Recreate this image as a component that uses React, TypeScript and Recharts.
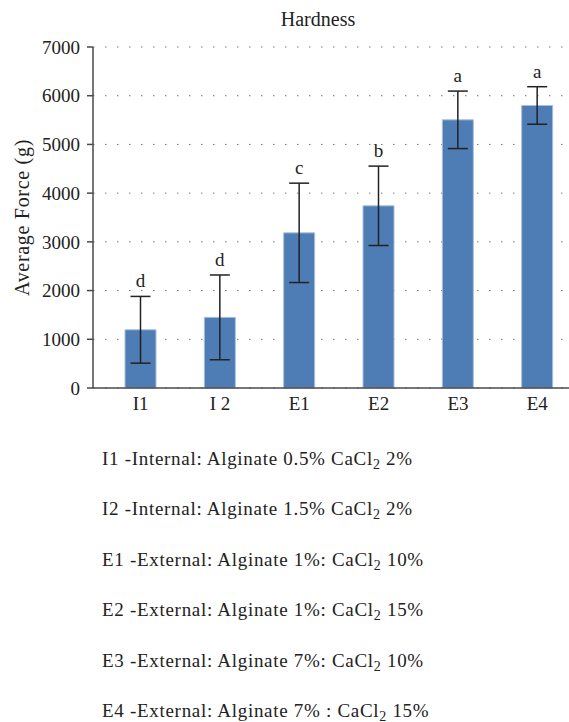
import { BarChart, Bar, XAxis, YAxis, CartesianGrid, ErrorBar, LabelList } from 'recharts'

const categories = ['I1', 'I 2', 'E1', 'E2', 'E3', 'E4']
const hardness = [1195, 1450, 3185, 3740, 5505, 5800]
const deviation = [685, 870, 1020, 815, 590, 385]
const letters = ['d', 'd', 'c', 'b', 'a', 'a']
const yTicks = [0, 1000, 2000, 3000, 4000, 5000, 6000, 7000]

// legend text below the chart: [before subscript, after subscript]
const legendLines: [string, string][] = [
  ['I1 -Internal: Alginate 0.5% CaCl', ' 2%'],
  ['I2 -Internal: Alginate 1.5% CaCl', ' 2%'],
  ['E1 -External: Alginate 1%: CaCl', ' 10%'],
  ['E2 -External: Alginate 1%: CaCl', ' 15%'],
  ['E3 -External: Alginate 7%: CaCl', ' 10%'],
  ['E4 -External: Alginate 7% : CaCl', ' 15%'],
]

const font = '"Liberation Serif", "DejaVu Serif", serif'
const axisColor = '#4a4a4a'

const chartData = categories.map((name, i) => ({
  name,
  value: hardness[i],
  err: deviation[i],
  letter: letters[i],
}))

const LetterLabel = (props: any) => {
  const { x, y, width, height, index } = props
  const d = chartData[index]
  const perUnit = height / d.value
  const errTop = y - d.err * perUnit
  return (
    <text x={x + width / 2} y={errTop - 9} textAnchor="middle" fontSize={19} fontFamily={font} fill="#222">
      {d.letter}
    </text>
  )
}

const YLabel = (props: any) => {
  const { viewBox } = props
  const cy = viewBox.y + viewBox.height / 2
  return (
    <text x={29} y={cy} transform={`rotate(-90, 29, ${cy})`} textAnchor="middle" fontSize={20} letterSpacing={0.7} fontFamily={font} fill="#222">
      Average Force (g)
    </text>
  )
}

export default function App() {
  return (
    <div style={{ position: 'absolute', left: 0, top: 0, width: 569, height: 722, overflow: 'hidden', background: '#fff', fontFamily: font, color: '#222' }}>
      <div style={{ position: 'absolute', left: 218, top: 8, width: 200, textAlign: 'center', fontSize: 20 }}>Hardness</div>
      <BarChart
        width={585}
        height={430}
        data={chartData}
        margin={{ top: 47, right: 0, left: 0, bottom: 0 }}
        barSize={31}
      >
        <CartesianGrid horizontal vertical={false} stroke="#777" strokeDasharray="1.5 10.5" />
        <XAxis
          dataKey="name"
          padding={{ left: 8, right: 8 }}
          axisLine={{ stroke: axisColor, strokeWidth: 1.5 }}
          tickLine={false}
          tickSize={0}
          tickMargin={9}
          height={42}
          tick={{ fill: '#222', fontSize: 19, fontFamily: font }}
          interval={0}
        />
        <YAxis
          domain={[0, 7000]}
          ticks={yTicks}
          width={93}
          axisLine={{ stroke: axisColor, strokeWidth: 1.5 }}
          tickLine={{ stroke: axisColor, strokeWidth: 1.5 }}
          tickSize={6}
          tickMargin={7}
          tick={{ fill: '#222', fontSize: 19, fontFamily: font }}
          label={<YLabel />}
        />
        <Bar dataKey="value" fill="#4e7cb4" stroke="#a9c0dd" strokeWidth={1} isAnimationActive={false}>
          <ErrorBar dataKey="err" width={10} stroke="#222" strokeWidth={1.5} />
          <LabelList dataKey="value" content={<LetterLabel />} />
        </Bar>
      </BarChart>
      {legendLines.map((line, i) => (
        <div
          key={i}
          style={{ position: 'absolute', left: 102, top: 448 + i * 50.4, fontSize: 19, letterSpacing: 0.7, lineHeight: '22px', whiteSpace: 'nowrap' }}
        >
          {line[0]}
          <sub style={{ fontSize: 14, verticalAlign: '-4px' }}>2</sub>
          {line[1]}
        </div>
      ))}
    </div>
  )
}
